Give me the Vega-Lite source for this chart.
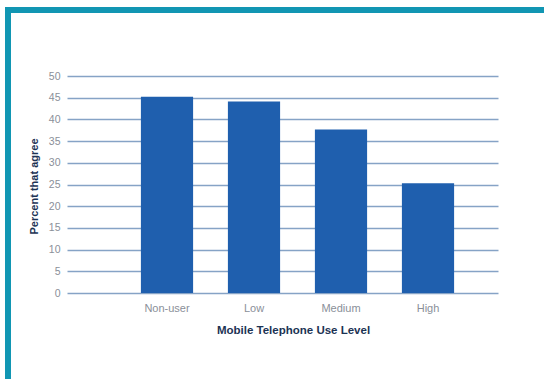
{
  "$schema": "https://vega.github.io/schema/vega-lite/v6.json",
  "width": 536,
  "height": 369,
  "autosize": "none",
  "padding": {"left": 8, "top": 10, "right": 0, "bottom": 0},
  "background": "white",
  "data": {
    "values": [
      {"level": "Non-user", "percent": 45.2},
      {"level": "Low", "percent": 44.1},
      {"level": "Medium", "percent": 37.7},
      {"level": "High", "percent": 25.3}
    ]
  },
  "mark": {"type": "bar", "color": "#1f5fae"},
  "encoding": {
    "x": {
      "field": "level",
      "type": "nominal",
      "sort": ["Non-user", "Low", "Medium", "High"],
      "scale": {"range": [115.5, 463.5], "paddingInner": 0.4, "paddingOuter": 0.2},
      "axis": {
        "title": "Mobile Telephone Use Level",
        "orient": "bottom",
        "offset": -86,
        "domain": false,
        "ticks": false,
        "tickSize": 0,
        "labelPadding": 9,
        "labelAngle": 0,
        "labelFont": "Liberation Sans",
        "labelFontSize": 11,
        "labelColor": "#8a8f99",
        "titleFont": "Liberation Sans",
        "titleFontSize": 11.5,
        "titleFontWeight": "bold",
        "titleColor": "#1c3354",
        "titlePadding": 11,
        "titleX": 285
      }
    },
    "y": {
      "field": "percent",
      "type": "quantitative",
      "scale": {"domain": [0, 50], "range": [283, 66], "nice": false, "zero": true},
      "axis": {
        "title": "Percent that agree",
        "orient": "left",
        "offset": -490,
        "values": [0, 5, 10, 15, 20, 25, 30, 35, 40, 45, 50],
        "grid": false,
        "domain": false,
        "ticks": true,
        "tickSize": 431,
        "tickWidth": 1.5,
        "tickColor": "#86a3c6",
        "labelPadding": 7,
        "labelFont": "Liberation Sans",
        "labelFontSize": 10.5,
        "labelColor": "#8a8f99",
        "titleFont": "Liberation Sans",
        "titleFontSize": 11,
        "titleFontWeight": "bold",
        "titleColor": "#1c3354",
        "titleX": -459,
        "titleY": 176
      }
    }
  },
  "config": {
    "view": {
      "stroke": "#1196b3",
      "strokeWidth": 6,
      "strokeDash": [536, 905, 369],
      "strokeCap": "square"
    }
  }
}
